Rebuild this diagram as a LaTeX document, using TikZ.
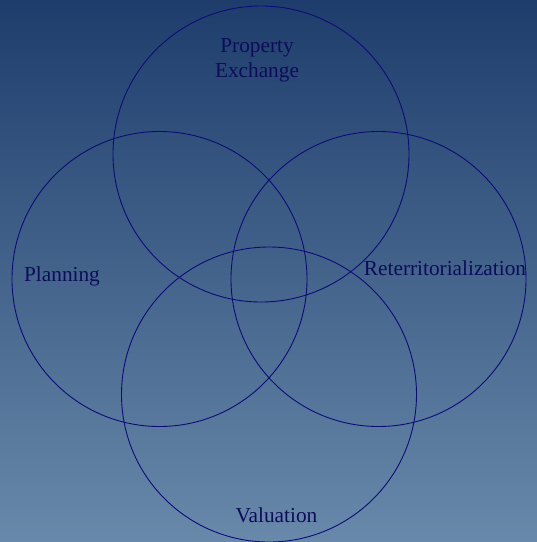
\documentclass[tikz,border=0pt]{standalone}
\usepackage{fontspec}
\setmainfont{Liberation Serif}
\usepackage{xcolor}
\usepackage{tikz}

\definecolor{bgtop}{RGB}{31,61,108}
\definecolor{bgbottom}{RGB}{104,137,170}
\definecolor{ring}{RGB}{12,12,120}
\definecolor{labeltext}{RGB}{12,12,90}

\begin{document}
\begin{tikzpicture}[x=1pt,y=-1pt,
    ring/.style={draw=ring, line width=0.9pt},
    lbl/.style={text=labeltext, font=\fontsize{21.3}{25}\selectfont, align=center, inner sep=0pt}]
          % background
          \shade[top color=bgtop, bottom color=bgbottom] (0,0) rectangle (537,542);
          \useasboundingbox (0,0) rectangle (537,542);

          \coordinate (exch) at (261,154);
          \coordinate (plan) at (159.5,279);
          \coordinate (reter) at (378.5,279);
          \coordinate (val) at (269,394.5);

          \draw[ring] (exch) circle (148);
          \draw[ring] (plan) circle (147.5);
          \draw[ring] (reter) circle (147.5);
          \draw[ring] (val) circle (147.5);

          \node[lbl] (exchlbl) at (257,60) {Property\\Exchange};
          \node[lbl] (planlbl) at (62,276) {Planning};
          \node[lbl] (reterlbl) at (445,268) {Reterritorialization};
          \node[lbl] (vallbl) at (276.5,515) {Valuation};
        \end{tikzpicture}
\end{document}
